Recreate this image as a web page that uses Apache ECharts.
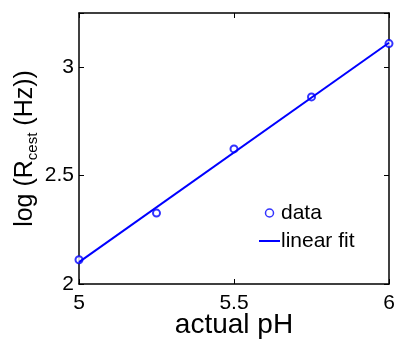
<!DOCTYPE html>
<html><head><meta charset="utf-8">
<script src="https://cdn.jsdelivr.net/npm/echarts@6/dist/echarts.min.js"></script>
<style>html,body{margin:0;padding:0;background:#fff}#c{width:395px;height:342px}</style>
</head><body><div id="c"></div>
<script>
const phValues = [5, 5.25, 5.5, 5.75, 6];
const logRcest = [2.112, 2.327, 2.623, 2.863, 3.109];
const fitX = [5, 6];
const fitY = [2.101, 3.113];
const xTicks = [5, 5.5, 6];
const yTicks = [2, 2.5, 3];

const chart = echarts.init(document.getElementById('c'));
const font = 'Liberation Sans, Arial, sans-serif';
const axisCommon = {
  axisLine: {show: true, onZero: false, lineStyle: {color: '#000', width: 1.5}},
  axisTick: {show: true, inside: true, length: 5, lineStyle: {color: '#000', width: 1}},
  splitLine: {show: false}
};
chart.setOption({
  animation: false,
  grid: {left: 79, right: 6, top: 13, bottom: 58, containLabel: false, outerBoundsMode: 'none'},
  legend: {
    orient: 'vertical', left: 253, top: 197, itemGap: 6, itemWidth: 21, itemHeight: 8,
    textStyle: {fontFamily: font, fontSize: 21, color: '#000', padding: [0,0,0,-4], height: 22, lineHeight: 22},
    data: [
      {name: 'data', icon: 'circle', itemStyle: {color: '#fff', borderColor: '#0000ff', borderWidth: 1.5}},
      {name: 'linear fit', itemStyle: {opacity: 0}}
    ]
  },
  xAxis: [
    Object.assign({type: 'value', min: 5, max: 6, interval: 0.5, position: 'bottom',
      name: 'actual pH', nameLocation: 'middle', nameGap: 27, nameMoveOverlap: false,
      nameTextStyle: {fontFamily: font, fontSize: 28, color: '#000'},
      axisLabel: {fontFamily: font, fontSize: 21, color: '#000', margin: 9,
        formatter: v => xTicks.includes(v) ? String(v) : ''}}, axisCommon),
    Object.assign({type: 'value', min: 5, max: 6, interval: 0.5, position: 'top',
      axisLabel: {show: false}}, axisCommon)
  ],
  yAxis: [
    Object.assign({type: 'value', min: 2, max: 3.25, interval: 0.5, position: 'left',
      name: '{a|log (R}{b|cest}{a| (Hz))}', nameLocation: 'middle', nameGap: 39, nameRotate: 90,
      nameMoveOverlap: false,
      nameTextStyle: {padding: [0, 0, 0, 0], rich: {
        a: {fontFamily: font, fontSize: 25, color: '#000'},
        b: {fontFamily: font, fontSize: 15, color: '#000', verticalAlign: 'bottom', padding: [14,0,0,0]}
      }},
      axisLabel: {fontFamily: font, fontSize: 21, color: '#000', margin: 5,
        formatter: v => yTicks.includes(v) ? String(v) : ''}}, axisCommon),
    Object.assign({type: 'value', min: 2, max: 3.25, interval: 0.5, position: 'right',
      axisLabel: {show: false}}, axisCommon)
  ],
  series: [
    {name: 'linear fit', type: 'line', xAxisIndex: 0, yAxisIndex: 0, showSymbol: false, symbol: 'none',
      lineStyle: {color: '#0000ff', width: 2}, itemStyle: {color: '#0000ff'},
      data: fitX.map((x, i) => [x, fitY[i]])},
    {name: 'data', type: 'scatter', xAxisIndex: 0, yAxisIndex: 0, symbol: 'emptyCircle', symbolSize: 7,
      itemStyle: {color: '#0000ff', borderColor: '#0000ff', borderWidth: 1.5},
      data: phValues.map((x, i) => [x, logRcest[i]])}
  ]
});
</script></body></html>
